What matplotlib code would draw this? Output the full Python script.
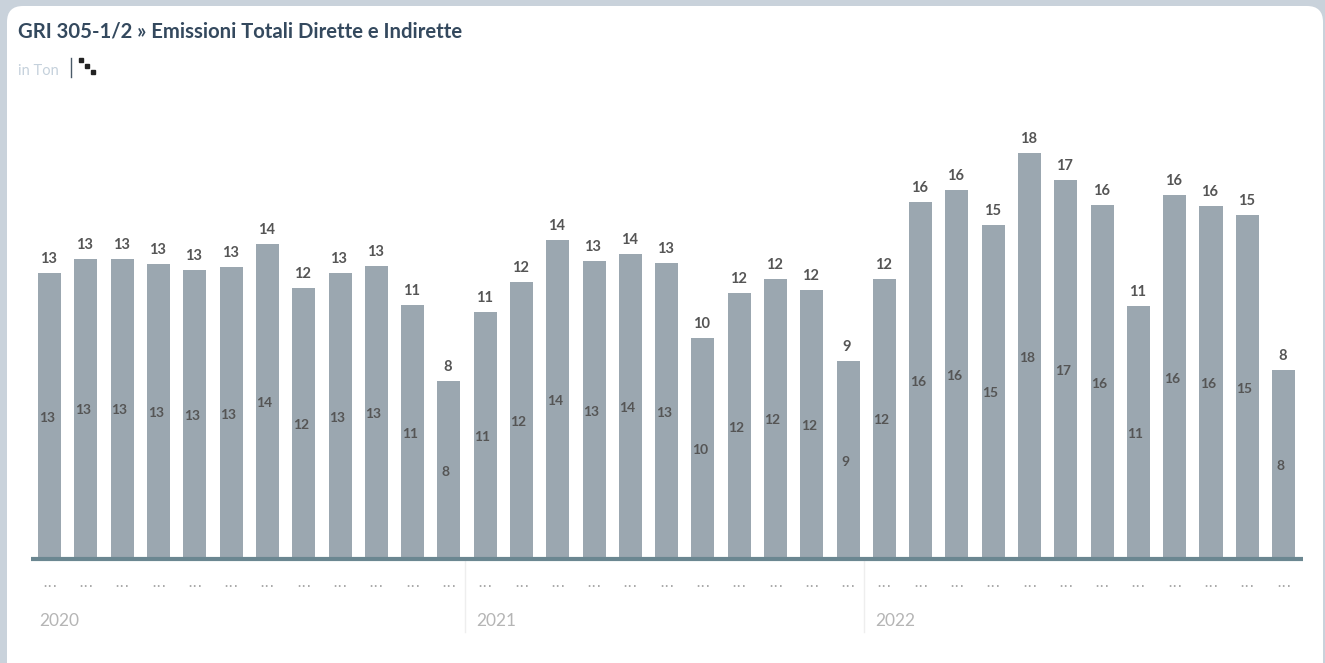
import matplotlib
matplotlib.use('Agg')
import matplotlib.pyplot as plt
from matplotlib.patches import FancyBboxPatch

plt.rcParams['font.family'] = ['Lato', 'DejaVu Sans']

W, H = 1325, 663

values = [12.72, 13.35, 13.35, 13.13, 12.86, 12.99, 14.02, 12.05, 12.72, 13.04, 11.29, 7.9,
          10.98, 12.32, 14.2, 13.26, 13.57, 13.17, 9.82, 11.83, 12.46, 11.96, 8.79,
          12.46, 15.89, 16.43, 14.87, 18.08, 16.88, 15.76, 11.25, 16.2, 15.71, 15.31, 8.39]
years = ['2020', '2021', '2022']
year_start = [0, 12, 23]

def px(x, y):
	return x / W, 1 - y / H

fig = plt.figure(figsize=(W / 100, H / 100), dpi=100, facecolor='#c9d2db')

# white card, drawn under the axes
card = FancyBboxPatch((7, 6), 1316, 680, boxstyle='round,pad=0,rounding_size=16',
	fc='white', ec='none', zorder=-1)
card.set_transform(matplotlib.transforms.Affine2D().scale(1, -1).translate(0, H))
fig.add_artist(card)

fig.text(*px(18, 31), 'GRI 305-1/2 » Emissioni Totali Dirette e Indirette',
	fontsize=14.6, fontweight='bold', color='#34495e', va='center', ha='left')
fig.text(*px(18, 71), 'in Ton', fontsize=10.5, color='#c5d1dc', va='center', ha='left')
fig.add_artist(plt.Line2D([71 / W, 71 / W], [1 - 58 / H, 1 - 77 / H], color='#4a5a68', lw=1))
fig.add_artist(plt.Line2D([81 / W, 87 / W, 93 / W], [1 - 60 / H, 1 - 66 / H, 1 - 72 / H],
	color='#222222', lw=0, marker='s', ms=2.4))

ax = fig.add_axes([31 / W, 1 - 558 / H, 1272 / W, 448 / H])
ax.set_facecolor('none')
ax.set_xlim(-0.515, 34.535)
ax.set_ylim(0, 20)

x = list(range(len(values)))
ax.bar(x, values, width=0.634, color='#9ba7b0')
for i, v in zip(x, values):
	lab = str(int(round(v)))
	ax.text(i - 0.03, v + 0.63, lab, ha='center', va='center', fontsize=10.5, fontweight='bold', color='#555555')
	ax.text(i - 0.08, v / 2 - 0.09, lab, ha='center', va='center', fontsize=10, fontweight='bold', color='#555555')

for s in ['top', 'left', 'right']:
	ax.spines[s].set_visible(False)
ax.spines['bottom'].set_color('#6b8791')
ax.spines['bottom'].set_linewidth(3)
ax.spines['bottom'].set_capstyle('butt')
ax.spines['bottom'].set_position(('outward', 1))
ax.set_yticks([])
ax.set_xticks(x)
ax.set_xticklabels(['...'] * len(x), fontsize=11.5, color='#aaaaaa', fontfamily=['DejaVu Sans'])
ax.tick_params(axis='x', length=0, pad=11)

trans = ax.get_xaxis_transform()
for yr, st in zip(years, year_start):
	if st > 0:
		ax.plot([st - 0.55, st - 0.55], [0, -74 / 448], transform=trans, color='#eeeeee', lw=1, clip_on=False)
	ax.annotate(yr, xy=(st - 0.55, 0), xycoords=trans,
		xytext=(9 * 0.72 + (0 if st == 0 else 2 * 0.72), -63 * 0.72), textcoords='offset points',
		fontsize=12.5, color='#b5b5b5', ha='left', va='center')

fig.savefig('out.png', dpi=100, facecolor=fig.get_facecolor())
